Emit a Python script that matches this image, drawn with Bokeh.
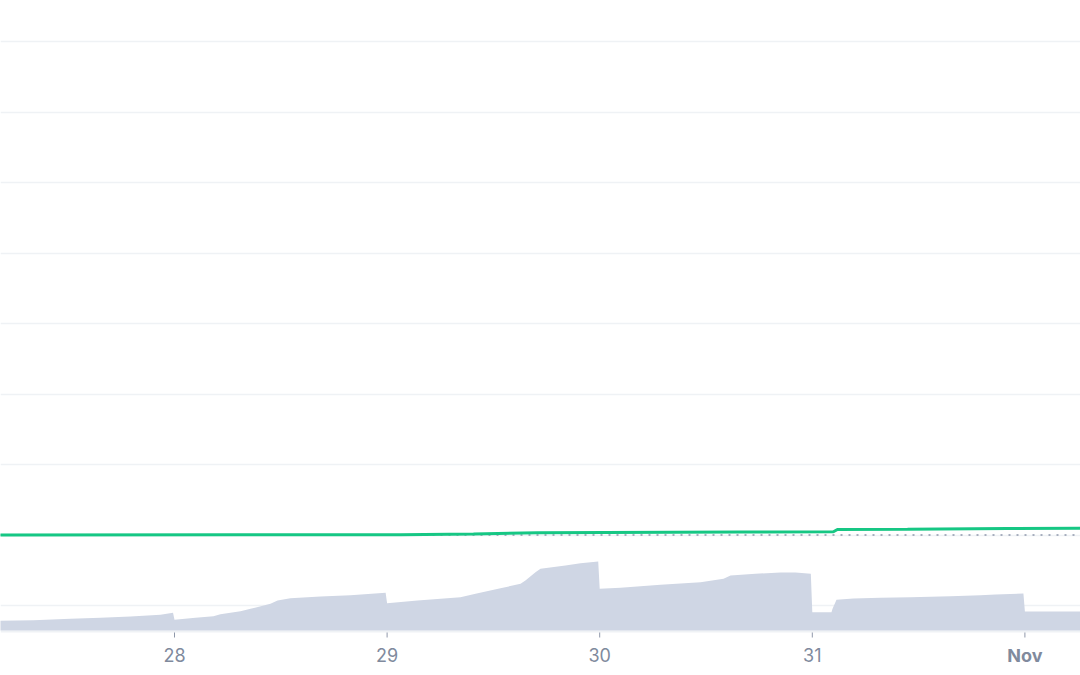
import pandas as pd
from bokeh.plotting import figure
from bokeh.models import Range1d, FixedTicker, Span, ColumnDataSource
from bokeh.core.properties import value
from bokeh.embed import file_html
from bokeh.resources import INLINE

# ---------------- data ----------------
price_times = ["2023-10-27 04:00", "2023-10-28 07:27", "2023-10-29 01:31", "2023-10-29 09:45",
               "2023-10-29 16:59", "2023-10-30 15:53", "2023-10-31 02:23", "2023-10-31 02:50",
               "2023-10-31 10:45", "2023-10-31 22:02", "2023-11-01 07:00"]
price_values = [1.000, 1.002, 1.004, 1.014, 1.031, 1.043, 1.045, 1.078, 1.082, 1.092, 1.096]

volume_times = ["2023-10-27 04:00", "2023-10-27 08:05", "2023-10-27 12:16", "2023-10-27 15:39",
                "2023-10-27 19:02", "2023-10-27 22:25", "2023-10-27 23:50", "2023-10-28 00:00",
                "2023-10-28 02:22", "2023-10-28 04:24", "2023-10-28 05:11", "2023-10-28 07:27",
                "2023-10-28 08:35", "2023-10-28 10:50", "2023-10-28 11:38", "2023-10-28 13:05",
                "2023-10-28 16:29", "2023-10-28 19:52", "2023-10-28 23:50", "2023-10-29 00:00",
                "2023-10-29 03:26", "2023-10-29 08:17", "2023-10-29 09:59", "2023-10-29 12:48",
                "2023-10-29 15:04", "2023-10-29 15:37", "2023-10-29 16:45", "2023-10-29 17:19",
                "2023-10-29 20:08", "2023-10-29 21:50", "2023-10-29 23:50", "2023-10-30 00:00",
                "2023-10-30 02:21", "2023-10-30 06:52", "2023-10-30 11:23", "2023-10-30 13:59",
                "2023-10-30 14:46", "2023-10-30 17:35", "2023-10-30 20:25", "2023-10-30 22:06",
                "2023-10-30 23:50", "2023-10-31 00:00", "2023-10-31 02:10", "2023-10-31 02:17",
                "2023-10-31 02:44", "2023-10-31 04:39", "2023-10-31 07:42", "2023-10-31 11:05",
                "2023-10-31 15:36", "2023-10-31 18:59", "2023-10-31 20:41", "2023-10-31 23:50",
                "2023-11-01 00:00", "2023-11-01 07:00"]
volume_values = [13.9, 14.7, 16.7, 18.1, 20.0, 22.4, 25.3, 15.3,
                 18.1, 20.4, 23.3, 27.6, 31.0, 38.1, 42.9, 46.1,
                 48.6, 50.4, 53.9, 39.0, 42.9, 47.6, 52.4, 60.4,
                 66.7, 71.4, 83.3, 88.1, 92.9, 96.1, 98.6, 59.6,
                 61.0, 65.3, 69.0, 73.9, 78.6, 81.0, 82.9, 82.9,
                 81.0, 26.1, 26.1, 31.0, 43.9, 45.7, 46.7, 47.6,
                 49.0, 50.4, 51.4, 52.9, 27.1, 27.1]

tick_dates = ["2023-10-28", "2023-10-29", "2023-10-30", "2023-10-31", "2023-11-01"]
tick_labels = ["28", "29", "30", "31", "Nov"]
tick_styles = ["normal", "normal", "normal", "normal", "bold"]
price_grid = [0, 1, 2, 3, 4, 5, 6, 7, 8]


def ms(s):
    return pd.Timestamp(s).timestamp() * 1000.0


FONT = "Inter"
LABEL_COLOR = "#808a9d"

# layout constants (pixels): volume baseline at y=630, 0.7 px per volume unit
VOL_PX = 0.7
AXIS_Y = 0.0                 # volume units: axis line at volume baseline
TICK_TOP = -2.0 / VOL_PX
TICK_BOT = -7.0 / VOL_PX
LABEL_Y = -24.5 / VOL_PX

price_src = ColumnDataSource(dict(t=[ms(s) for s in price_times], p=price_values))
vol_src = ColumnDataSource(dict(t=[ms(s) for s in volume_times], v=volume_values))
tick_ms = [ms(s) for s in tick_dates]
tick_src = ColumnDataSource(dict(t=tick_ms, lab=tick_labels, style=tick_styles,
                                 y0=[TICK_TOP] * len(tick_ms), y1=[TICK_BOT] * len(tick_ms),
                                 ly=[LABEL_Y] * len(tick_ms)))

H = 667
p = figure(width=1080, height=H, x_axis_location=None, y_axis_location=None,
           output_backend="svg", toolbar_location=None, title=None,
           x_range=Range1d(ms("2023-10-27 04:21:26"), ms("2023-11-01 06:16:37")),
           y_range=Range1d(-(H - 605) / 70.5, 605 / 70.5),
           min_border_left=0, min_border_right=0, min_border_top=0, min_border_bottom=0)
p.outline_line_color = None
p.background_fill_color = "white"
p.border_fill_color = "white"
p.extra_y_ranges = {"vol": Range1d(-(H - 630) / VOL_PX, 630 / VOL_PX)}

# horizontal grid
p.xgrid.visible = False
p.ygrid.ticker = FixedTicker(ticks=price_grid)
p.ygrid.grid_line_color = "#eff2f5"
p.ygrid.grid_line_width = 1.5

# volume area
p.varea(x="t", y1=0, y2="v", source=vol_src, fill_color="#cfd6e4", y_range_name="vol")

# axis line
p.add_layout(Span(location=AXIS_Y - 1.0 / VOL_PX, dimension="width", line_color="#eff2f5",
                  line_width=2, y_range_name="vol", level="underlay"))

# baseline (opening price) dotted
p.add_layout(Span(location=price_values[0], dimension="width", line_color="#8f97aa",
                  line_dash="2 6", line_width=1.5, level="underlay"))

# price line
p.line(x="t", y="p", source=price_src, line_color="#16c784", line_width=3)

# x ticks and labels
p.segment(x0="t", y0="y0", x1="t", y1="y1", source=tick_src, line_color="#8f98aa",
          line_width=1, y_range_name="vol")
p.text(x="t", y="ly", text="lab", source=tick_src, y_range_name="vol",
       text_font=value(FONT), text_font_size="18px", text_font_style="style",
       text_color=LABEL_COLOR, text_align="center", text_baseline="middle")

open("out.html", "w").write(file_html(p, INLINE))
